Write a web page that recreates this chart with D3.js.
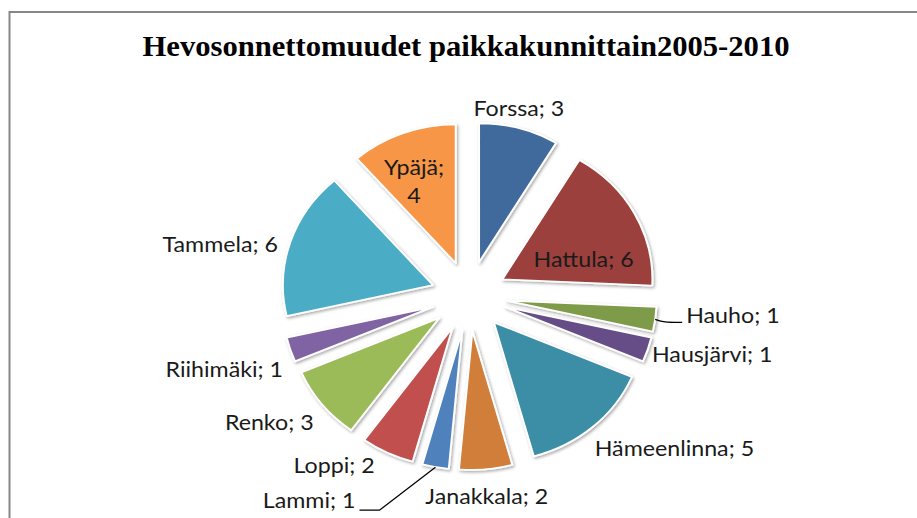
<!DOCTYPE html>
<html>
<head>
<meta charset="utf-8">
<script src="https://cdn.jsdelivr.net/npm/d3@7"></script>
<style>
  html, body { margin: 0; padding: 0; background: #fff; }
  svg { display: block; }
</style>
</head>
<body>
<svg id="chart" width="917" height="518"></svg>
<script>
// data
var categories = ["Forssa", "Hattula", "Hauho", "Hausjärvi", "Hämeenlinna", "Janakkala",
                  "Lammi", "Loppi", "Renko", "Riihimäki", "Tammela", "Ypäjä"];
var values = [3, 6, 1, 1, 5, 2, 1, 2, 3, 1, 6, 4];
var colors = ["#416A9C", "#9B3F3C", "#7E9B48", "#664E88", "#3A8EA5", "#D27E3A",
              "#4F81BD", "#C0504D", "#9BBB59", "#8064A2", "#4BACC6", "#F79646"];
var title = "Hevosonnettomuudet paikkakunnittain2005-2010";

// how each label is placed (inside / outside / with leader line)
var labelMode = {"Hattula": "inside", "Ypäjä": "inside", "Hauho": "leader", "Lammi": "leader"};
// small nudges, in px, where Excel moved a label off its default spot
var labelShift = {
  "Forssa": [-3, 0], "Hattula": [2, 20], "Ypäjä": [-10, -3], "Hausjärvi": [-6, -6],
  "Hämeenlinna": [-5, 0], "Loppi": [-8, -12], "Riihimäki": [3, 9], "Tammela": [-2, 6],
  "Hauho": [27, 3], "Lammi": [-66, 43]
};

var svg = d3.select("#chart");
var cx = 469, cy = 296, R = 139, explode = 35, sx = 1.08;

// chart area border
svg.append("rect")
  .attr("x", 9.5).attr("y", 12)
  .attr("width", 1000).attr("height", 600)
  .attr("fill", "none")
  .attr("stroke", "#878787")
  .attr("stroke-width", 2);

svg.append("text")
  .attr("x", 466).attr("y", 56)
  .attr("text-anchor", "middle")
  .attr("textLength", 647)
  .attr("lengthAdjust", "spacingAndGlyphs")
  .style("font-family", "Liberation Serif")
  .style("font-weight", "bold")
  .style("font-size", "30px")
  .style("fill", "#000")
  .text(title);

var defs = svg.append("defs");
var f = defs.append("filter").attr("id", "shadow")
  .attr("x", "-20%").attr("y", "-20%").attr("width", "140%").attr("height", "140%");
f.append("feDropShadow")
  .attr("dx", 1.2).attr("dy", 1.5)
  .attr("stdDeviation", 1.6)
  .attr("flood-color", "#000")
  .attr("flood-opacity", 0.35);

var rows = categories.map(function(c, i) { return {name: c, value: values[i], color: colors[i]}; });

var pie = d3.pie().sort(null).value(function(d) { return d.value; });
var arcs = pie(rows);

var arc = d3.arc().innerRadius(0).outerRadius(R);

function mid(d) { return (d.startAngle + d.endAngle) / 2; }
function toScreen(rad, a) { return [cx + sx * rad * Math.sin(a), cy - rad * Math.cos(a)]; }

var g = svg.append("g")
  .attr("transform", "translate(" + cx + "," + cy + ") scale(" + sx + ",1)");

g.selectAll("path.slice")
  .data(arcs)
  .enter().append("path")
  .attr("class", "slice")
  .attr("transform", function(d) {
    var a = mid(d);
    return "translate(" + (explode * Math.sin(a)) + "," + (-explode * Math.cos(a)) + ")";
  })
  .attr("d", arc)
  .attr("fill", function(d) { return d.data.color; })
  .attr("stroke", "#fff")
  .attr("stroke-width", 1.8)
  .attr("stroke-linejoin", "round")
  .attr("filter", "url(#shadow)");

// labels (the original is a bit stretched sideways, so the text is too)
var font = "Lato";
var fsize = 21.5;
var lab = svg.append("g");

function addText(x, y, anchor) {
  return lab.append("g")
    .attr("transform", "translate(" + x + "," + y + ") scale(" + sx + ",1)")
    .append("text")
    .attr("text-anchor", anchor);
}

arcs.forEach(function(d) {
  var a = mid(d);
  var name = d.data.name;
  var txt = name + "; " + d.data.value;
  var mode = labelMode[name] || "outside";
  var sh = labelShift[name] || [0, 0];
  var t;

  if (mode === "inside") {
    var p = toScreen(explode + R * 0.6, a);
    t = addText(p[0] + sh[0], p[1] + sh[1], "middle");
    if (name === "Ypäjä") {
      t.append("tspan").attr("x", 0).attr("y", -7).text(name + ";");
      t.append("tspan").attr("x", 0).attr("y", 21).text(d.data.value);
    } else {
      t.attr("y", 7).text(txt);
    }
  } else if (mode === "leader") {
    var e = toScreen(explode + R, a);
    var elbow = [e[0] + sh[0], e[1] + sh[1]];
    var right = Math.sin(a) > 0;
    var pts;
    if (right) {
      pts = [e, [e[0] + 8, elbow[1]], elbow];
    } else {
      pts = [e, [elbow[0] + 10, elbow[1]], [elbow[0], elbow[1]]];
      elbow = [elbow[0] - 10, elbow[1]];
      pts.push(elbow);
    }
    lab.append("path")
      .attr("d", right ? d3.line().curve(d3.curveBasis)(pts) : d3.line()(pts))
      .attr("fill", "none")
      .attr("stroke", "#000")
      .attr("stroke-width", 1.3);
    t = addText(elbow[0] + (right ? 4 : -4), elbow[1] + (right ? 1 : -2), right ? "start" : "end")
      .text(txt);
  } else {
    var q = toScreen(explode + R + 10, a);
    var s = Math.sin(a), c = Math.cos(a);
    var anchor = Math.abs(s) < 0.3 ? "middle" : (s > 0 ? "start" : "end");
    var yc = q[1] - c * 14 + 4;
    t = addText(q[0] + sh[0], yc + 7 + sh[1], anchor).text(txt);
  }
});

lab.selectAll("text")
  .style("font-family", font)
  .style("font-size", fsize + "px")
  .style("fill", "#1a1a1a");
</script>
</body>
</html>
